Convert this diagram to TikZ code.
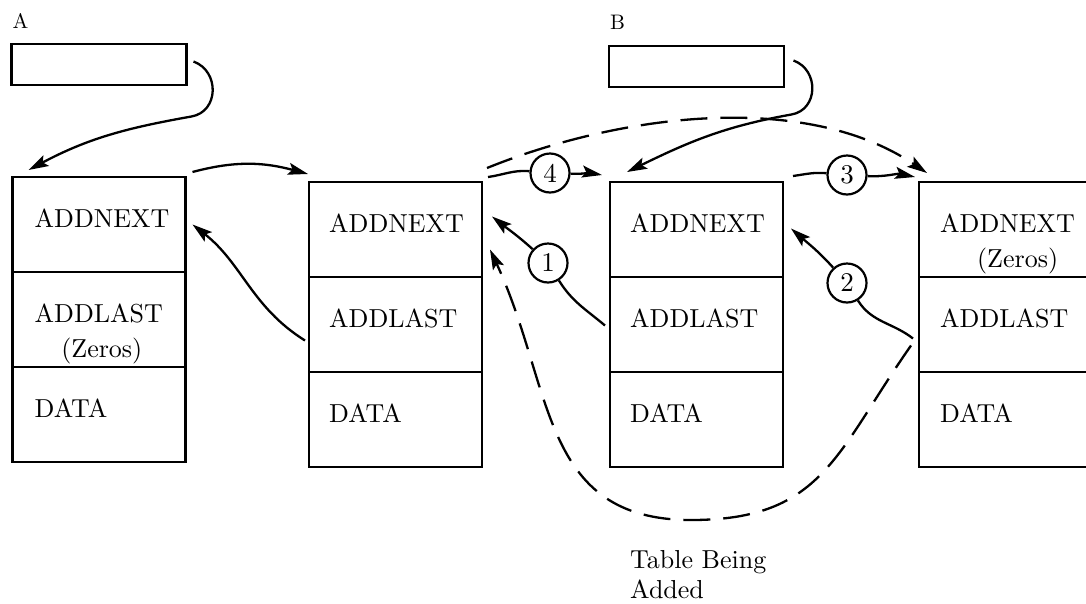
\documentclass[tikz,border=0pt]{standalone}
\usepackage{fontspec}
\setmainfont{lmroman10-regular.otf}
\usetikzlibrary{positioning, arrows.meta}

\newcommand{\tablefont}{\fontsize{26}{30}\selectfont}
\newcommand{\stepfont}{\fontsize{27}{30}\selectfont}
\newcommand{\tagfont}{\fontsize{21}{25}\selectfont}

\tikzset{%
  field/.style={draw, line width=2.8pt, minimum width=173pt, minimum height=95pt,
    inner sep=0pt, outer sep=0pt}, % one word of a table entry
  ptrbox/.style={draw, line width=2.8pt, minimum width=175pt, minimum height=41pt,
    inner sep=0pt, outer sep=0pt},
  entry/.style={anchor=base west, inner sep=0pt, font=\tablefont},
  seqno/.style={circle, draw, fill=white, line width=2.2pt, minimum size=39pt,
    inner sep=0pt, font=\stepfont}, % order in which the links change
  linkpart/.style={line width=2.3pt},
  link/.style={linkpart, -{Stealth[length=20pt,width=12pt,inset=4pt]}},
  newlink/.style={link, dash pattern=on 27pt off 13pt}
}

\begin{document}
\begin{tikzpicture}[x=1pt, y=1pt]
  \useasboundingbox (0,0) rectangle (1086,-603);
  \clip (0,0) rectangle (1086,-603);

  % the four tables of the chain
  \node[field] (t1a) at (99,-224.5) {};
  \node[field, below=0pt of t1a] (t1b) {};
  \node[field, below=0pt of t1b] (t1c) {};

  \node[field] (t2a) at (395.5,-229.5) {};
  \node[field, below=0pt of t2a] (t2b) {};
  \node[field, below=0pt of t2b] (t2c) {};

  \node[field] (t3a) at (696.5,-229.5) {};
  \node[field, below=0pt of t3a] (t3b) {};
  \node[field, below=0pt of t3b] (t3c) {};

  \node[field] (t4a) at (1005.5,-229.5) {};
  \node[field, below=0pt of t4a] (t4b) {};
  \node[field, below=0pt of t4b] (t4c) {};

  \node[entry] (t1a-t) at ([shift={(22,-50)}]t1a.north west) {ADDNEXT};
  \node[entry] (t1b-t) at ([shift={(22,-50)}]t1b.north west) {ADDLAST};
  \node[entry, anchor=base] (t1b-z) at ([shift={(3,-35)}]t1b-t.base) {(Zeros)};
  \node[entry] (t1c-t) at ([shift={(22,-50)}]t1c.north west) {DATA};

  \node[entry] (t2a-t) at ([shift={(20,-50)}]t2a.north west) {ADDNEXT};
  \node[entry] (t2b-t) at ([shift={(20,-50)}]t2b.north west) {ADDLAST};
  \node[entry] (t2c-t) at ([shift={(20,-50)}]t2c.north west) {DATA};

  \node[entry] (t3a-t) at ([shift={(20,-50)}]t3a.north west) {ADDNEXT};
  \node[entry] (t3b-t) at ([shift={(20,-50)}]t3b.north west) {ADDLAST};
  \node[entry] (t3c-t) at ([shift={(20,-50)}]t3c.north west) {DATA};

  \node[entry] (t4a-t) at ([shift={(21,-50)}]t4a.north west) {ADDNEXT};
  \node[entry, anchor=base] (t4a-z) at ([shift={(10,-35)}]t4a-t.base) {(Zeros)};
  \node[entry] (t4b-t) at ([shift={(21,-50)}]t4b.north west) {ADDLAST};
  \node[entry] (t4c-t) at ([shift={(21,-50)}]t4c.north west) {DATA};

  % anchor words A and B
  \node[ptrbox, above=92pt of t1a] (ptrA) {};
  \node[ptrbox, above=95pt of t3a] (ptrB) {};
  \node[entry, font=\tagfont] (tagA) at ([shift={(1,16)}]ptrA.north west) {A};
  \node[entry, font=\tagfont] (tagB) at ([shift={(1,17)}]ptrB.north west) {B};

  \node[entry, anchor=north west, align=left] (caption)
    at ([shift={(20,-83)}]t3c.south west) {Table Being\\Added};

  % numbered steps
  \node[seqno] (c1) at (548,-263) {1};
  \node[seqno] (c2) at (847,-283) {2};
  \node[seqno] (c3) at (847,-175) {3};
  \node[seqno] (c4) at (550,-173) {4};

  % pointers out of A and B
  \coordinate (hookA) at ([shift={(5,-52)}]ptrA.east);
  \coordinate (hookB) at ([shift={(7.5,-48)}]ptrB.east);
  \draw[link] ([shift={(7,3)}]ptrA.east) to[out=-20, in=10, looseness=1.3] (hookA)
    to[out=190, in=28] ([shift={(16,7)}]t1a.north west);
  \draw[link] ([shift={(9.5,6)}]ptrB.east) to[out=-20, in=10, looseness=1.3] (hookB)
    to[out=190, in=26] ([shift={(17,10)}]t3a.north west);

  % old chain
  \draw[link] ([shift={(7,5)}]t1a.north east) to[out=15, in=165] ([shift={(-1,8)}]t2a.north west);
  \draw[link] ([shift={(-4,-16)}]t2b.west) to[out=148, in=-38] ([shift={(7,0)}]t1a.east);

  % new links, in order
  \draw[linkpart] ([shift={(-5,-1)}]t3b.west) to[out=140, in=-58] (c1);
  \draw[link] (c1) to[out=138, in=-38] ([shift={(10,13)}]t2a.east);
  \draw[linkpart] ([shift={(-6,-14)}]t4b.west) to[out=142, in=-58] (c2);
  \draw[link] (c2) to[out=132, in=-41] ([shift={(8,1)}]t3a.east);
  \draw[linkpart] ([shift={(10,6)}]t3a.north east) to[out=8, in=175] (c3);
  \draw[link] (c3) to[out=-3, in=168] ([shift={(-4,5)}]t4a.north west);
  \draw[linkpart] ([shift={(6,5)}]t2a.north east) to[out=8, in=175] (c4);
  \draw[link] (c4) to[out=-2, in=170] ([shift={(-8,7)}]t3a.north west);

  % links that are replaced
  \coordinate (dip) at ([shift={(81,-53)}]t3c.south west);
  \draw[newlink] ([shift={(5,14)}]t2a.north east) to[out=22, in=146, looseness=0.85]
    ([shift={(8,9)}]t4a.north west);
  \draw[newlink] ([shift={(-8,-21)}]t4b.west) to[out=-125, in=0, looseness=1.2] (dip)
    to[out=180, in=-65, looseness=1.15] ([shift={(8,-20)}]t2a.east);
\end{tikzpicture}
\end{document}
